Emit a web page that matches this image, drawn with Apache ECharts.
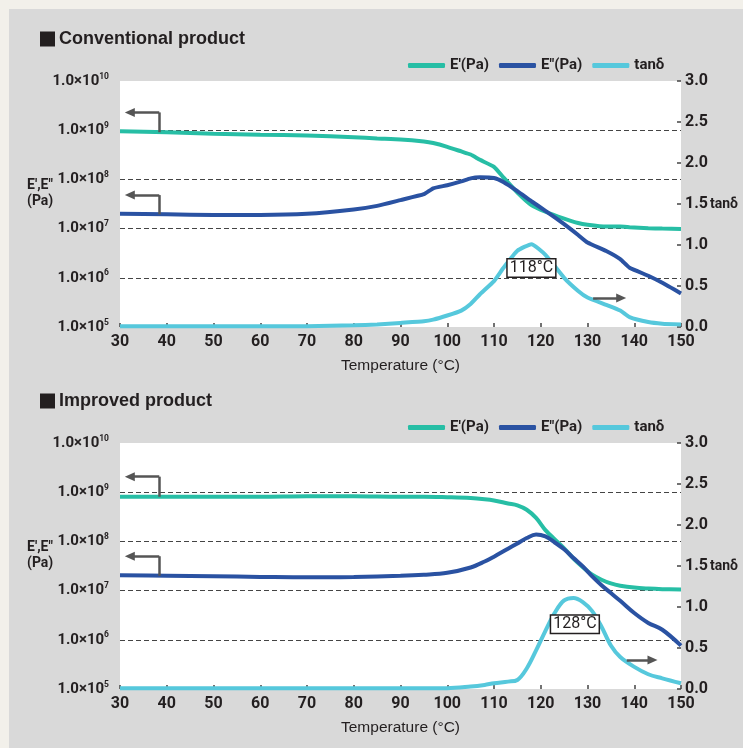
<!DOCTYPE html>
<html>
<head>
<meta charset="utf-8">
<script src="https://cdn.jsdelivr.net/npm/echarts@6/dist/echarts.min.js"></script>
<style>
  html, body { margin: 0; padding: 0; background: #f2f0ea; }
  #chart { width: 743px; height: 748px; }
</style>
</head>
<body>
<div id="chart"></div>
<script>
// ---- data ----
// Conventional product
const temps1 = [30, 40, 50, 60, 70, 80, 85, 90, 95, 97, 100, 103, 105, 107, 110, 112, 115, 118, 121, 125, 128, 130, 134, 137, 139, 143, 146, 150];
const eStorage1 = [9.5e8, 9.1e8, 8.5e8, 8.1e8, 7.8e8, 7.2e8, 6.8e8, 6.5e8, 5.9e8, 5.5e8, 4.6e8, 3.7e8, 3.2e8, 2.5e8, 1.8e8, 1.1e8, 5.4e7, 3.0e7, 2.2e7, 1.6e7, 1.3e7, 1.2e7, 1.1e7, 1.1e7, 1.07e7, 1.02e7, 1.0e7, 9.8e6];
const eLoss1 = [2.0e7, 1.95e7, 1.9e7, 1.9e7, 2.0e7, 2.45e7, 2.9e7, 3.8e7, 5.0e7, 6.6e7, 7.6e7, 9.1e7, 1.05e8, 1.1e8, 1.07e8, 8.9e7, 5.8e7, 3.6e7, 2.3e7, 1.23e7, 7.4e6, 5.2e6, 3.5e6, 2.4e6, 1.6e6, 1.1e6, 7.9e5, 4.8e5];
const tanD1 = [0.01, 0.01, 0.01, 0.01, 0.01, 0.02, 0.03, 0.05, 0.07, 0.09, 0.14, 0.20, 0.28, 0.40, 0.56, 0.72, 0.93, 1.01, 0.88, 0.60, 0.44, 0.36, 0.27, 0.20, 0.12, 0.06, 0.04, 0.03];
const peak1 = [118, 0.72, '118°C'];

// Improved product
const temps2 = [30, 40, 50, 60, 70, 80, 90, 95, 100, 105, 108, 110, 113, 115, 117, 119, 121, 123, 125, 127, 129, 131, 133, 135, 137, 140, 143, 146, 150];
const eStorage2 = [8.1e8, 8.1e8, 8.1e8, 8.1e8, 8.3e8, 8.3e8, 8.1e8, 8.1e8, 7.9e8, 7.6e8, 7.2e8, 6.8e8, 5.9e8, 5.4e8, 4.4e8, 3.0e8, 1.7e8, 1.1e8, 7.2e7, 4.5e7, 3.0e7, 2.1e7, 1.66e7, 1.4e7, 1.26e7, 1.15e7, 1.1e7, 1.07e7, 1.05e7];
const eLoss2 = [2.04e7, 2.0e7, 1.95e7, 1.9e7, 1.86e7, 1.9e7, 2.0e7, 2.1e7, 2.3e7, 2.95e7, 3.9e7, 4.9e7, 7.1e7, 9.1e7, 1.17e8, 1.38e8, 1.26e8, 9.5e7, 6.9e7, 4.6e7, 3.1e7, 1.95e7, 1.29e7, 8.9e6, 6.2e6, 3.5e6, 2.2e6, 1.6e6, 7.6e5];
const tanD2 = [0.01, 0.01, 0.01, 0.01, 0.01, 0.01, 0.01, 0.01, 0.01, 0.03, 0.05, 0.07, 0.09, 0.11, 0.25, 0.47, 0.71, 0.93, 1.08, 1.11, 1.06, 0.95, 0.76, 0.53, 0.39, 0.27, 0.18, 0.13, 0.07];
const peak2 = [127.3, 0.79, '128°C'];

// arrow annotations: [x of stem, x of tip, y at curve, y of bend]
const arrowsE1 = [[38.4, 32.1, 9.1e8, 2.3e9], [38.4, 32.1, 1.95e7, 4.8e7]];
const arrowsE2 = [[38.4, 32.1, 8.1e8, 2.07e9], [38.4, 32.1, 2.0e7, 5.0e7]];
const arrowTan1 = [131.2, 137.2, 0.354];
const arrowTan2 = [138.4, 143.9, 0.354];

const titles = ['Conventional product', 'Improved product'];
const seriesNames = ['E′(Pa)', 'E″(Pa)', 'tanδ'];
const xTicks = [30, 150, 10];
const tanTicks = [0, 3, 0.5];
const modTicks = [1e5, 1e10];

// ---- styling ----
const COND = "Roboto,'Liberation Sans',sans-serif";
const SANS = "'Liberation Sans','Helvetica','Arial',sans-serif";
const INK = '#231f20';
const colors = ['#27bea5', '#2a52a2', '#56c8dc'];
const gridTops = [81, 443];
const titleTops = [30, 392];
const legendTops = [58, 420];

const zip = (xs, ys) => xs.map((x, i) => [x, ys[i]]);

function bentArrow(a) {
  return [
    [{ coord: [a[0], a[2]] }, { coord: [a[0], a[3]] }],
    [{ coord: [a[0], a[3]] }, { coord: [a[1], a[3]], symbol: 'triangle', symbolSize: [9, 10] }],
  ];
}

function markLineOf(data) {
  return {
    silent: true,
    animation: false,
    symbol: ['none', 'none'],
    label: { show: false },
    emphasis: { disabled: true },
    lineStyle: { color: '#555', width: 2.5, type: 'solid' },
    data: data,
  };
}

function peakLabel(p) {
  return {
    silent: true,
    animation: false,
    data: [{
      coord: [p[0], p[1]],
      symbol: 'rect',
      symbolSize: 1,
      itemStyle: { color: 'rgba(0,0,0,0)' },
      label: {
        show: true,
        position: 'inside',
        formatter: p[2],
        color: INK,
        fontFamily: COND,
        fontSize: 16,
        backgroundColor: '#fff',
        borderColor: INK,
        borderWidth: 1.5,
        padding: [1, 2, 0, 2],
      },
    }],
  };
}

const chart = echarts.init(document.getElementById('chart'));

const grid = [], xAxis = [], yAxis = [], series = [], title = [], legend = [], graphic = [];
graphic.push({ type: 'rect', left: 9, top: 9, z: -10, silent: true, shape: { width: 734, height: 739 }, style: { fill: '#d9d9d9' } });

const panels = [
  { t: temps1, e1: eStorage1, e2: eLoss1, tan: tanD1, peak: peak1, arrE: arrowsE1, arrT: arrowTan1, smooth: 0.15 },
  { t: temps2, e1: eStorage2, e2: eLoss2, tan: tanD2, peak: peak2, arrE: arrowsE2, arrT: arrowTan2, smooth: 0.35 },
];

panels.forEach((p, i) => {
  grid.push({
    left: 120, right: 62, top: gridTops[i], height: 246,
    outerBoundsMode: 'none', containLabel: false,
    show: true, backgroundColor: '#fff', borderWidth: 0,
  });
  title.push({
    left: 40, top: titleTops[i], padding: 0,
    text: '{sq|}{t|' + titles[i] + '}',
    textStyle: {
      rich: {
        sq: { width: 15, height: 15, backgroundColor: INK },
        t: { fontSize: 18, fontFamily: SANS, color: INK, padding: [0, 0, 0, 4] },
      },
    },
  });
  legend.push({
    top: legendTops[i], left: 408, padding: 0,
    itemWidth: 37, itemHeight: 5, itemGap: 10,
    icon: 'roundRect',
    selectedMode: false,
    data: seriesNames,
    textStyle: { fontFamily: COND, fontSize: 15, fontWeight: 'bold', color: INK },
  });
  // left axis name, placed as free text
  graphic.push({
    type: 'text', left: 27, top: gridTops[i] + 96, silent: true,
    style: { text: 'E′,E″\n(Pa)', font: 'bold 14px ' + COND, fill: INK, lineHeight: 16 },
  });
  xAxis.push({
    type: 'value', gridIndex: i,
    min: xTicks[0], max: xTicks[1], interval: xTicks[2],
    name: 'Temperature (°C)', nameLocation: 'middle', nameGap: 31,
    nameTextStyle: { fontFamily: SANS, fontSize: 15.5, color: INK },
    axisLine: { show: false },
    axisTick: { show: true, inside: true, length: 4, lineStyle: { color: '#444', width: 1.5 } },
    axisLabel: { fontFamily: COND, fontWeight: 'bold', fontSize: 16, color: INK, margin: 7 },
    splitLine: { show: false },
  });
  yAxis.push({
    type: 'log', logBase: 10, gridIndex: i,
    min: modTicks[0], max: modTicks[1],
    axisLine: { show: false },
    axisTick: { show: false },
    axisLabel: {
      margin: 11,
      formatter: v => '{m|1.0×10}{e|' + Math.round(Math.log10(v)) + '}',
      rich: {
        m: { fontFamily: COND, fontWeight: 'bold', fontSize: 15, color: INK, lineHeight: 18 },
        e: { fontFamily: COND, fontWeight: 'bold', fontSize: 8.5, color: INK, lineHeight: 10, verticalAlign: 'top' },
      },
    },
    splitLine: { show: true, showMinLine: false, showMaxLine: false, lineStyle: { color: '#444', width: 1, type: [5, 3] } },
  });
  yAxis.push({
    type: 'value', gridIndex: i, position: 'right',
    min: tanTicks[0], max: tanTicks[1], interval: tanTicks[2],
    name: 'tanδ', nameLocation: 'middle', nameRotate: 0, nameGap: 29, nameMoveOverlap: false,
    nameTextStyle: { fontFamily: COND, fontWeight: 'bold', fontSize: 14, color: INK, align: 'left' },
    axisLine: { show: false },
    axisTick: { show: true, inside: true, length: 4, lineStyle: { color: '#444', width: 1.5 } },
    axisLabel: { fontFamily: COND, fontWeight: 'bold', fontSize: 16, color: INK, margin: 4, formatter: v => v.toFixed(1) },
    splitLine: { show: false },
  });
  const line = (name, data, yIdx, color, extra) => Object.assign({
    name, type: 'line', xAxisIndex: i, yAxisIndex: yIdx,
    data, symbol: 'none', showSymbol: false, smooth: p.smooth,
    lineStyle: { width: 4, color }, itemStyle: { color },
    emphasis: { disabled: true }, animation: false,
  }, extra);
  series.push(line(seriesNames[0], zip(p.t, p.e1), i * 2, colors[0], { markLine: markLineOf(bentArrow(p.arrE[0])) }));
  series.push(line(seriesNames[1], zip(p.t, p.e2), i * 2, colors[1], { markLine: markLineOf(bentArrow(p.arrE[1])) }));
  series.push(line(seriesNames[2], zip(p.t, p.tan), i * 2 + 1, colors[2], {
    markLine: markLineOf([[{ coord: [p.arrT[0], p.arrT[2]] }, { coord: [p.arrT[1], p.arrT[2]], symbol: 'triangle', symbolSize: [9, 10] }]]),
    markPoint: peakLabel(p.peak),
  }));
});

chart.setOption({
  backgroundColor: '#f2f0ea',
  animation: false,
  graphic, title, legend, grid, xAxis, yAxis, series,
});
</script>
</body>
</html>
